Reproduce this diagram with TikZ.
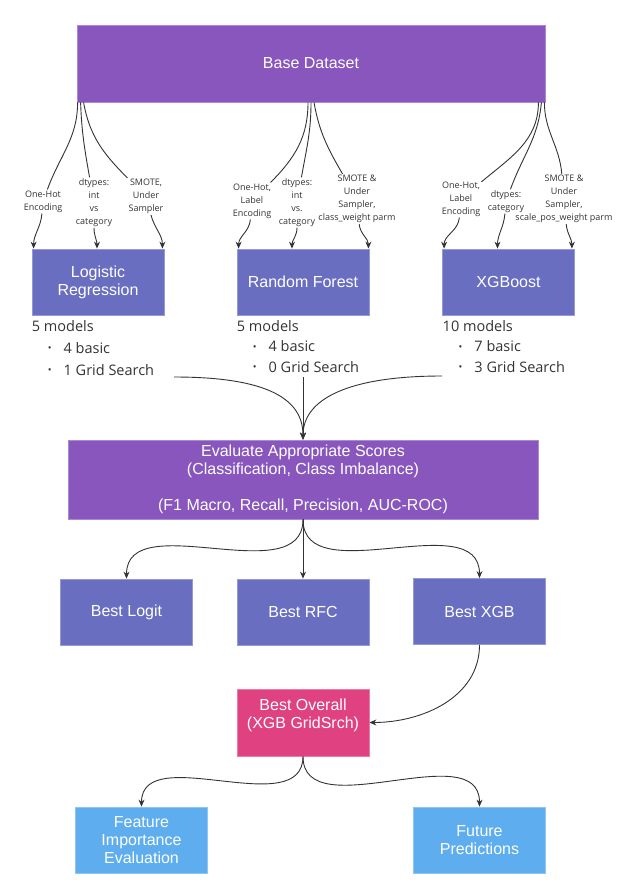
\documentclass[tikz,border=0pt]{standalone}
\usepackage{fontspec}
\setmainfont{Liberation Sans}
\newfontfamily\notefont{Open Sans}
\usetikzlibrary{positioning, arrows.meta}
\definecolor{baseViolet}{HTML}{8856BD}
\definecolor{modelBlue}{HTML}{696EC0}
\definecolor{overallPink}{HTML}{E04281}
\definecolor{outSky}{HTML}{5EADEE}
\definecolor{inkGray}{HTML}{333333}
\newcommand{\itm}[1]{\hspace*{16pt}\raisebox{1.5pt}{\fontsize{10}{10}\selectfont\textbullet}\hspace{12pt}#1}

\begin{document}
\begin{tikzpicture}[
    x=1pt, y=1pt,
    box/.style={draw, line width=0.8pt, inner sep=2pt, align=center, text=white, font=\fontsize{16}{18}\selectfont},
    dset/.style={box, fill=baseViolet, draw=baseViolet!70!white, minimum width=468pt, minimum height=77pt},
    mdl/.style={box, fill=modelBlue, draw=modelBlue!70!white, minimum width=132pt, minimum height=66pt},
    evalbox/.style={box, fill=baseViolet, draw=baseViolet!70!white, minimum width=470pt, minimum height=79pt},
    ovbox/.style={box, fill=overallPink, draw=overallPink!70!white, minimum width=132pt, minimum height=67pt},
    outbox/.style={box, fill=outSky, draw=outSky!70!white, minimum width=132pt, minimum height=66pt},
    lbl/.style={inner sep=1pt, align=center, text=inkGray, font=\notefont\fontsize{9}{13}\selectfont},
    lst/.style={anchor=north west, inner sep=0pt, align=left, text=inkGray, font=\notefont\fontsize{14.5}{20.5}\selectfont},
    arr/.style={-{Stealth[length=7pt, width=6pt]}, inkGray, line width=0.9pt},
  ]
    \useasboundingbox (0,0) rectangle (625,-891);

    % top
    \node[dset] (base) at (311,-63.5) {Base Dataset};

    % models
    \node[mdl] (lr) at (98,-282) {Logistic\\Regression};
    \node[mdl] (rf) at (303,-282) {Random Forest};
    \node[mdl] (xg) at (508.5,-282) {XGBoost};

    \node[lst, font=\notefont\fontsize{14.5}{22}\selectfont] (lrn) at (31.7,-320) {5 models\\\itm{4 basic}\\\itm{1 Grid Search}};
    \node[lst] (rfn) at (236.7,-320) {5 models\\\itm{4 basic}\\\itm{0 Grid Search}};
    \node[lst] (xgn) at (442.5,-320) {10 models\\\itm{7 basic}\\\itm{3 Grid Search}};

    % prep labels
    \node[lbl] (lr1) at (43,-201.5) {One-Hot\\Encoding};
    \node[lbl] (lr2) at (94,-202.5) {dtypes:\\int\\vs\\category};
    \node[lbl] (lr3) at (146,-196.5) {SMOTE,\\Under\\Sampler};
    \node[lbl] (rf1) at (252,-201) {One-Hot,\\Label\\Encoding};
    \node[lbl] (rf2) at (297,-202.5) {dtypes:\\int\\vs.\\category};
    \node[lbl] (rf3) at (357,-199) {SMOTE \&\\Under\\Sampler,\\class\_weight parm};
    \node[lbl] (xg1) at (461,-199) {One-Hot,\\Label\\Encoding};
    \node[lbl] (xg2) at (506,-201.5) {dtypes:\\category};
    \node[lbl] (xg3) at (564,-199) {SMOTE \&\\Under\\Sampler,\\scale\_pos\_weight parm};

    \draw[arr] ([xshift=1pt]base.south west) to[out=-90,in=70] (lr1) to[out=-95,in=90] ([xshift=2pt]lr.north west);
    \draw[arr] ([xshift=4pt]base.south west) to[out=-88,in=100] (lr2) to[out=-90,in=90] ([xshift=-1pt]lr.north);
    \draw[arr] ([xshift=7pt]base.south west) to[out=-80,in=135] (lr3) to[out=-75,in=90] ([xshift=-2pt]lr.north east);
    \draw[arr] ([xshift=-3pt]base.south) to[out=-90,in=45] (rf1) to[out=-95,in=90] ([xshift=2pt]rf.north west);
    \draw[arr] (base.south) to[out=-90,in=80] (rf2) to[out=-90,in=90] ([xshift=-11pt]rf.north);
    \draw[arr] ([xshift=3pt]base.south) to[out=-80,in=120] (rf3) to[out=-85,in=90] ([xshift=-1pt]rf.north east);
    \draw[arr] ([xshift=-7pt]base.south east) to[out=-90,in=40] (xg1) to[out=-95,in=90] ([xshift=2pt]xg.north west);
    \draw[arr] ([xshift=-4pt]base.south east) to[out=-95,in=70] (xg2) to[out=-95,in=90] ([xshift=-11pt]xg.north);
    \draw[arr] ([xshift=-1pt]base.south east) to[out=-90,in=95] (xg3) to[out=-85,in=90] ([xshift=-3pt]xg.north east);

    % scoring
    \node[evalbox] (ev) at (303,-479.5) {Evaluate Appropriate Scores\\(Classification, Class Imbalance)\\[18pt](F1 Macro, Recall, Precision, AUC-ROC)};
    \coordinate (lrout) at (174,-377);
    \coordinate (rfout) at (303,-377);
    \coordinate (xgout) at (442,-376);
    \draw[arr] (lrout) .. controls +(95,0) and +(0,40) .. (ev.north);
    \draw[arr] (rfout) -- (ev.north);
    \draw[arr] (xgout) .. controls +(-95,0) and +(0,40) .. (ev.north);

    % best per family
    \node[mdl] (bl) at (126.5,-612) {Best Logit};
    \node[mdl] (br) at (303,-612) {Best RFC};
    \node[mdl] (bx) at (479.5,-611.5) {Best XGB};
    \draw[arr] (ev.south) to[out=-90,in=90] (bl.north);
    \draw[arr] (ev.south) -- (br.north);
    \draw[arr] (ev.south) to[out=-90,in=90] (bx.north);

    % final
    \node[ovbox] (ov) at (303,-722.5) {Best Overall\\(XGB GridSrch)\\~};
    \draw[arr] (bx.south) to[out=-90,in=0] (ov.east);

    \node[outbox] (fi) at (141.5,-840) {Feature\\Importance\\Evaluation};
    \node[outbox] (fp) at (479.5,-840) {Future\\Predictions};
    \draw[arr] (ov.south) to[out=-90,in=90] (fi.north);
    \draw[arr] (ov.south) to[out=-90,in=90] (fp.north);
  \end{tikzpicture}
\end{document}
